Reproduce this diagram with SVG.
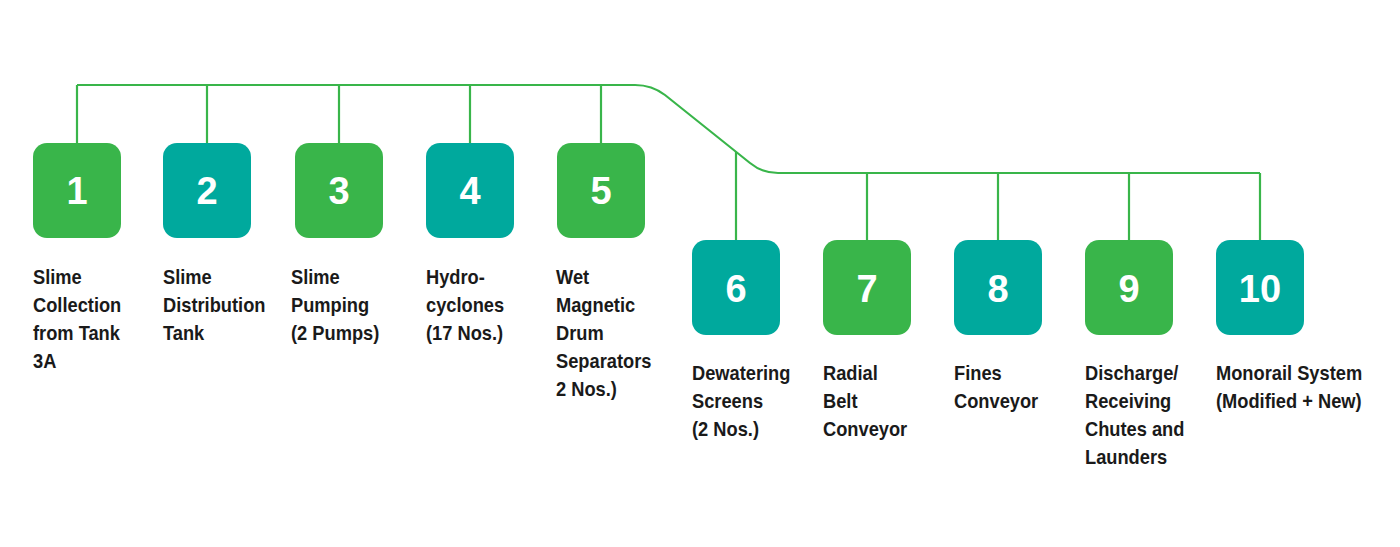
<svg xmlns="http://www.w3.org/2000/svg" width="1400" height="547" viewBox="0 0 1400 547">
<style>
.g{fill:#39b54a}.t{fill:#00a99d}
.n{font-family:"Liberation Sans",Arial,sans-serif;font-weight:bold;font-size:38px;fill:#fff;text-anchor:middle}
.l{font-family:"Liberation Sans",Arial,sans-serif;font-weight:bold;font-size:21px;fill:#1a1a1a}
.c{fill:none;stroke:#39b54a;stroke-width:2.2}
</style>
<rect width="1400" height="547" fill="#fff"/>
<g id="connectors" class="c">
<path d="M77,85 H635 Q652,85 665,95 L750,163 Q762,173 778,173 H1260"/>
<path d="M77,85 V143 M207,85 V143 M339,85 V143 M470,85 V143 M601,85 V143"/>
<path d="M736,152 V240 M867,173 V240 M998,173 V240 M1129,173 V240 M1260,173 V240"/>
</g>
<g id="n1"><rect class="g" x="33" y="143" width="88" height="95" rx="14"/><text class="n" x="77" y="204">1</text>
<text class="l" transform="translate(33,284) scale(0.87,1)"><tspan x="0" y="0">Slime</tspan><tspan x="0" y="28">Collection</tspan><tspan x="0" y="56">from Tank</tspan><tspan x="0" y="84">3A</tspan></text></g>
<g id="n2"><rect class="t" x="163" y="143" width="88" height="95" rx="14"/><text class="n" x="207" y="204">2</text>
<text class="l" transform="translate(163,284) scale(0.87,1)"><tspan x="0" y="0">Slime</tspan><tspan x="0" y="28">Distribution</tspan><tspan x="0" y="56">Tank</tspan></text></g>
<g id="n3"><rect class="g" x="295" y="143" width="88" height="95" rx="14"/><text class="n" x="339" y="204">3</text>
<text class="l" transform="translate(291,284) scale(0.87,1)"><tspan x="0" y="0">Slime</tspan><tspan x="0" y="28">Pumping</tspan><tspan x="0" y="56">(2 Pumps)</tspan></text></g>
<g id="n4"><rect class="t" x="426" y="143" width="88" height="95" rx="14"/><text class="n" x="470" y="204">4</text>
<text class="l" transform="translate(426,284) scale(0.87,1)"><tspan x="0" y="0">Hydro-</tspan><tspan x="0" y="28">cyclones</tspan><tspan x="0" y="56">(17 Nos.)</tspan></text></g>
<g id="n5"><rect class="g" x="557" y="143" width="88" height="95" rx="14"/><text class="n" x="601" y="204">5</text>
<text class="l" transform="translate(556,284) scale(0.87,1)"><tspan x="0" y="0">Wet</tspan><tspan x="0" y="28">Magnetic</tspan><tspan x="0" y="56">Drum</tspan><tspan x="0" y="84">Separators</tspan><tspan x="0" y="112">2 Nos.)</tspan></text></g>
<g id="n6"><rect class="t" x="692" y="240" width="88" height="95" rx="14"/><text class="n" x="736" y="302">6</text>
<text class="l" transform="translate(692,380) scale(0.87,1)"><tspan x="0" y="0">Dewatering</tspan><tspan x="0" y="28">Screens</tspan><tspan x="0" y="56">(2 Nos.)</tspan></text></g>
<g id="n7"><rect class="g" x="823" y="240" width="88" height="95" rx="14"/><text class="n" x="867" y="302">7</text>
<text class="l" transform="translate(823,380) scale(0.87,1)"><tspan x="0" y="0">Radial</tspan><tspan x="0" y="28">Belt</tspan><tspan x="0" y="56">Conveyor</tspan></text></g>
<g id="n8"><rect class="t" x="954" y="240" width="88" height="95" rx="14"/><text class="n" x="998" y="302">8</text>
<text class="l" transform="translate(954,380) scale(0.87,1)"><tspan x="0" y="0">Fines</tspan><tspan x="0" y="28">Conveyor</tspan></text></g>
<g id="n9"><rect class="g" x="1085" y="240" width="88" height="95" rx="14"/><text class="n" x="1129" y="302">9</text>
<text class="l" transform="translate(1085,380) scale(0.87,1)"><tspan x="0" y="0">Discharge/</tspan><tspan x="0" y="28">Receiving</tspan><tspan x="0" y="56">Chutes and</tspan><tspan x="0" y="84">Launders</tspan></text></g>
<g id="n10"><rect class="t" x="1216" y="240" width="88" height="95" rx="14"/><text class="n" x="1260" y="302">10</text>
<text class="l" transform="translate(1216,380) scale(0.87,1)"><tspan x="0" y="0">Monorail System</tspan><tspan x="0" y="28">(Modified + New)</tspan></text></g>
</svg>
